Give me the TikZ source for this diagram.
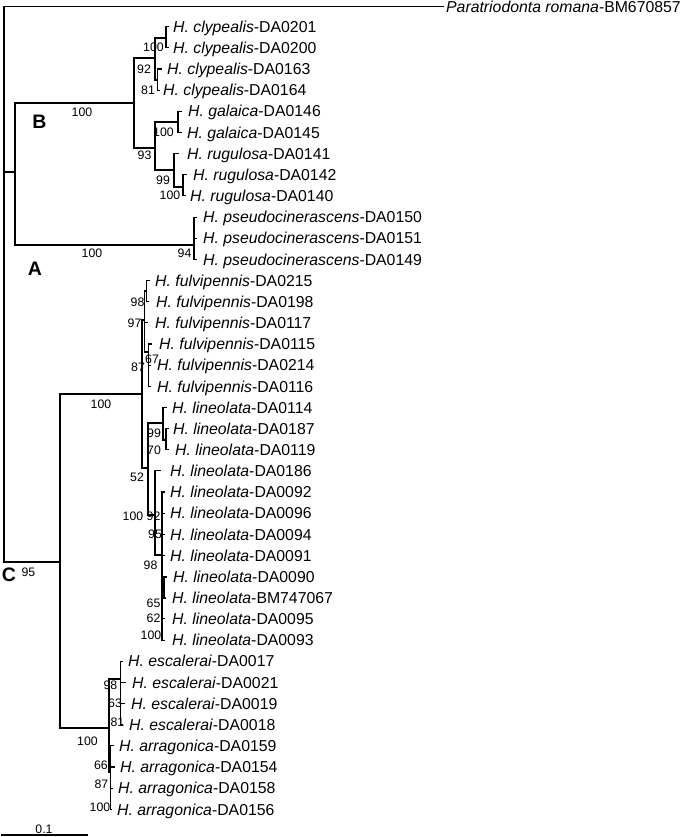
\documentclass[tikz,border=0pt]{standalone}
\usepackage{fontspec}
\setmainfont{Liberation Sans}
\newcommand\mkleaf[5]{\coordinate (#1) at (#2,#3); \node[leaf] (lab#1) at (#4,#3+5.7) {#5};}
\begin{document}
\begin{tikzpicture}[x=1pt,y=-1pt,
  br/.style={draw=black, line width=1.1pt, line cap=rect},
  leaf/.style={font=\fontsize{15.8}{18}\selectfont, inner sep=0pt, anchor=base west},
  sup/.style={font=\fontsize{12.3}{14}\selectfont, inner sep=0pt},
  cladelbl/.style={font=\bfseries\fontsize{19.5}{22}\selectfont, inner sep=0pt}]
\useasboundingbox (0,0) rectangle (685,837);
% internal nodes
\coordinate (root) at (4,172);
\coordinate (An) at (15,172);
\coordinate (Bn) at (134,103);
\coordinate (Cly) at (155,58);
\coordinate (c12) at (166,38);
\coordinate (c34) at (157.5,80);
\coordinate (GR) at (155,148);
\coordinate (Gal) at (178,122);
\coordinate (Rug) at (174,170);
\coordinate (r23) at (183,187);
\coordinate (Pn) at (194,245);
\coordinate (Cn) at (60,562);
\coordinate (FL) at (142,394);
\coordinate (Fc) at (144.5,320);
\coordinate (F98) at (146.5,291);
\coordinate (F87) at (148.5,352);
\coordinate (Lc) at (148,468);
\coordinate (L99) at (163,423);
\coordinate (L70) at (166,440);
\coordinate (L100) at (155,515);
\coordinate (L92) at (162,555);
\coordinate (L65) at (163.5,588);
\coordinate (EA) at (109,728);
\coordinate (Esc) at (120.5,679);
\coordinate (Arr) at (110.5,772);
% leaves
\mkleaf{out}{443}{6.7}{446}{\textit{Paratriodonta romana}-BM670857}
\mkleaf{c0201}{168}{26.7}{173}{\textit{H. clypealis}-DA0201}
\mkleaf{c0200}{168}{47.9}{173}{\textit{H. clypealis}-DA0200}
\mkleaf{c0163}{161}{69.0}{167}{\textit{H. clypealis}-DA0163}
\mkleaf{c0164}{159}{90.2}{163}{\textit{H. clypealis}-DA0164}
\mkleaf{g0146}{181}{111.3}{188}{\textit{H. galaica}-DA0146}
\mkleaf{g0145}{181}{132.5}{187}{\textit{H. galaica}-DA0145}
\mkleaf{r0141}{178}{153.6}{187}{\textit{H. rugulosa}-DA0141}
\mkleaf{r0142}{186}{174.8}{193}{\textit{H. rugulosa}-DA0142}
\mkleaf{r0140}{185}{195.9}{190}{\textit{H. rugulosa}-DA0140}
\mkleaf{p0150}{196}{217.1}{203}{\textit{H. pseudocinerascens}-DA0150}
\mkleaf{p0151}{196}{238.2}{203}{\textit{H. pseudocinerascens}-DA0151}
\mkleaf{p0149}{196}{259.4}{203}{\textit{H. pseudocinerascens}-DA0149}
\mkleaf{f0215}{149}{280.5}{155}{\textit{H. fulvipennis}-DA0215}
\mkleaf{f0198}{148}{301.7}{156}{\textit{H. fulvipennis}-DA0198}
\mkleaf{f0117}{147}{322.8}{155}{\textit{H. fulvipennis}-DA0117}
\mkleaf{f0115}{151}{344.0}{159}{\textit{H. fulvipennis}-DA0115}
\mkleaf{f0214}{150}{365.1}{157}{\textit{H. fulvipennis}-DA0214}
\mkleaf{f0116}{150}{386.3}{157}{\textit{H. fulvipennis}-DA0116}
\mkleaf{l0114}{166}{407.4}{172}{\textit{H. lineolata}-DA0114}
\mkleaf{l0187}{168}{428.6}{173}{\textit{H. lineolata}-DA0187}
\mkleaf{l0119}{168}{449.7}{175}{\textit{H. lineolata}-DA0119}
\mkleaf{l0186}{160}{470.9}{170}{\textit{H. lineolata}-DA0186}
\mkleaf{l0092}{164}{492.0}{170}{\textit{H. lineolata}-DA0092}
\mkleaf{l0096}{164}{513.2}{170}{\textit{H. lineolata}-DA0096}
\mkleaf{l0094}{164}{534.3}{170}{\textit{H. lineolata}-DA0094}
\mkleaf{l0091}{164}{555.5}{170}{\textit{H. lineolata}-DA0091}
\mkleaf{l0090}{166}{576.6}{173}{\textit{H. lineolata}-DA0090}
\mkleaf{lBM}{165}{597.8}{172}{\textit{H. lineolata}-BM747067}
\mkleaf{l0095}{164}{618.9}{172}{\textit{H. lineolata}-DA0095}
\mkleaf{l0093}{164}{640.1}{172}{\textit{H. lineolata}-DA0093}
\mkleaf{e0017}{122}{661.2}{128}{\textit{H. escalerai}-DA0017}
\mkleaf{e0021}{125}{682.4}{132}{\textit{H. escalerai}-DA0021}
\mkleaf{e0019}{124}{703.5}{131}{\textit{H. escalerai}-DA0019}
\mkleaf{e0018}{122}{724.7}{129}{\textit{H. escalerai}-DA0018}
\mkleaf{a0159}{113}{745.8}{119}{\textit{H. arragonica}-DA0159}
\mkleaf{a0154}{114}{767.0}{120}{\textit{H. arragonica}-DA0154}
\mkleaf{a0158}{112}{788.1}{118}{\textit{H. arragonica}-DA0158}
\mkleaf{a0156}{111.5}{809.3}{117}{\textit{H. arragonica}-DA0156}
% branches
\foreach \p/\c in {root/out,root/An,root/Cn,An/Bn,An/Pn,Bn/Cly,Bn/GR,Cly/c12,Cly/c34,
  c12/c0201,c12/c0200,c34/c0163,c34/c0164,GR/Gal,GR/Rug,Gal/g0146,Gal/g0145,
  Rug/r0141,Rug/r23,r23/r0142,r23/r0140,Pn/p0150,Pn/p0151,Pn/p0149,
  Cn/FL,Cn/EA,FL/Fc,FL/Lc,Fc/F98,Fc/f0117,Fc/F87,F98/f0215,F98/f0198,
  F87/f0115,F87/f0214,F87/f0116,Lc/L99,Lc/L100,L99/l0114,L99/L70,L70/l0187,L70/l0119,
  L100/l0186,L100/L92,L92/l0092,L92/l0096,L92/l0094,L92/l0091,L92/L65,L92/l0095,L92/l0093,
  EA/Esc,EA/Arr,Esc/e0017,Esc/e0021,Esc/e0019,Esc/e0018,
  Arr/a0159,Arr/a0154,Arr/a0158,Arr/a0156}
  \draw[br] (\p) |- (\c);
\draw[br, line width=2pt] (L65) |- (l0090);
\draw[br, line width=2pt] (L65) |- (lBM);
% clade letters
\node[cladelbl] (labB) at (39.5,122) {B};
\node[cladelbl] (labA) at (35,268.5) {A};
\node[cladelbl] (labC) at (9,574.5) {C};
% support values
\node[sup] (s01) at (82,112) {100};
\node[sup] (s02) at (153.5,47.7) {100};
\node[sup] (s03) at (144,69) {92};
\node[sup] (s04) at (148,90) {81};
\node[sup] (s05) at (163.5,132) {100};
\node[sup] (s06) at (144.5,155) {93};
\node[sup] (s07) at (163,180) {99};
\node[sup] (s08) at (170,195) {100};
\node[sup] (s09) at (92,253) {100};
\node[sup] (s10) at (184.5,253) {94};
\node[sup] (s11) at (137.5,302) {98};
\node[sup] (s12) at (134.5,323) {97};
\node[sup] (s13) at (138,367) {87};
\node[sup] (s14) at (152,359) {67};
\node[sup] (s15) at (101,404) {100};
\node[sup] (s16) at (154,433) {99};
\node[sup] (s17) at (154,450) {70};
\node[sup] (s18) at (137,477) {52};
\node[sup] (s19) at (133,516) {100};
\node[sup] (s20) at (153.5,516) {92};
\node[sup] (s21) at (155,534) {95};
\node[sup] (s22) at (150.5,565) {98};
\node[sup] (s23) at (153.5,603) {65};
\node[sup] (s24) at (153.5,618) {62};
\node[sup] (s25) at (151,635) {100};
\node[sup] (s26) at (28.5,572) {95};
\node[sup] (s27) at (110.5,685) {98};
\node[sup] (s28) at (115,703) {63};
\node[sup] (s29) at (117.5,722) {81};
\node[sup] (s30) at (87.5,741) {100};
\node[sup] (s31) at (101,765) {66};
\node[sup] (s32) at (101.5,784) {87};
\node[sup] (s33) at (100,807) {100};
% scale bar
\coordinate (sbL) at (2,835);
\coordinate (sbR) at (87,835);
\draw[br] (sbL) -- (sbR);
\node[sup] (sbT) at (44,829) {0.1};
\end{tikzpicture}
\end{document}
